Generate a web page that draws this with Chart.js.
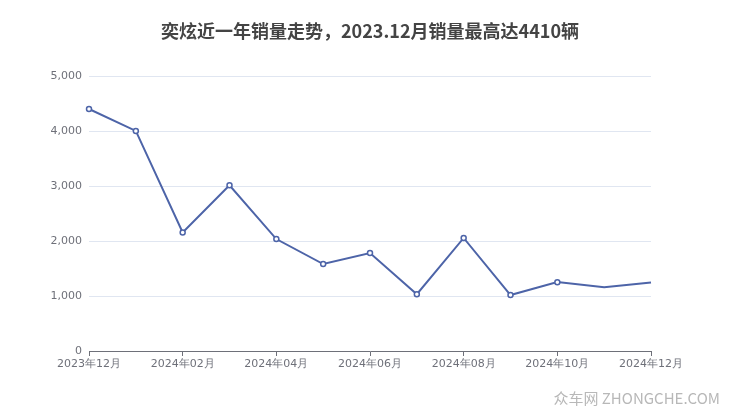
<!DOCTYPE html>
<html><head><meta charset="utf-8">
<script src="https://cdn.jsdelivr.net/npm/chart.js@4/dist/chart.umd.min.js"></script>
<style>html,body{margin:0;padding:0;background:#fff}#wrap{width:740px;height:417px}</style>
</head><body><div id="wrap"><canvas id="c" width="740" height="417"></canvas></div>
<script>
const titleText = '奕炫近一年销量走势，2023.12月销量最高达4410辆';
const months = ['2023年12月','2024年01月','2024年02月','2024年03月','2024年04月','2024年05月','2024年06月','2024年07月','2024年08月','2024年09月','2024年10月','2024年11月','2024年12月'];
const sales = [4410, 4010, 2160, 3020, 2040, 1585, 1785, 1035, 2060, 1020, 1255, 1160, 1250];
const markerShown = [1,1,1,1,1,1,1,1,1,1,1,0,0];
const yTicks = [0, 1000, 2000, 3000, 4000, 5000];

const watermark = {
  id: 'watermark',
  afterDraw(chart) {
    const ctx = chart.ctx;
    ctx.save();
    ctx.font = '15px "Noto Sans CJK SC", "DejaVu Sans", sans-serif';
    ctx.fillStyle = '#b8b8b8';
    ctx.textAlign = 'right';
    ctx.textBaseline = 'middle';
    ctx.fillText('众车网 ZHONGCHE.COM', 720, 398);
    ctx.restore();
  }
};

new Chart(document.getElementById('c'), {
  type: 'line',
  data: {
    datasets: [{
      data: sales.map((v, i) => ({x: i, y: v})),
      borderColor: '#4d64a8',
      borderWidth: 2,
      backgroundColor: '#ffffff',
      pointBackgroundColor: '#ffffff',
      pointBorderColor: '#4d64a8',
      pointBorderWidth: 1.5,
      pointRadius: markerShown.map(m => m ? 2.5 : 0),
      tension: 0,
      fill: false,
      clip: false
    }]
  },
  options: {
    responsive: false,
    animation: false,
    layout: {padding: 0},
    plugins: {
      legend: {display: false},
      tooltip: {enabled: false},
      title: {
        display: true,
        text: titleText,
        color: '#444444',
        font: {size: 18, weight: 'bold', family: '"Noto Sans CJK SC", sans-serif'},
        padding: {top: 20, bottom: 35}
      }
    },
    scales: {
      x: {
        type: 'linear',
        min: 0, max: months.length - 1,
        afterBuildTicks(scale) {
          scale.ticks = months.map((m, i) => ({value: i})).filter(t => t.value % 2 === 0);
        },
        afterFit(scale) { scale.height = 66; },
        ticks: {
          callback: (v) => months[v],
          color: '#6e7079',
          font: {size: 11, family: '"DejaVu Sans", sans-serif'},
          maxRotation: 0, autoSkip: false, padding: 2
        },
        grid: {display: true, drawOnChartArea: false, drawTicks: true, tickLength: 5, tickColor: '#6e7079'},
        border: {display: true, color: '#6e7079', width: 1}
      },
      y: {
        min: 0, max: 5000,
        afterBuildTicks(scale) { scale.ticks = yTicks.map(v => ({value: v})); },
        afterFit(scale) { scale.width = 89; },
        ticks: {
          callback: (v) => v.toLocaleString('en-US'),
          color: '#6e7079',
          font: {size: 11, family: '"DejaVu Sans", sans-serif'},
          padding: 7
        },
        grid: {color: '#e0e6f1', drawTicks: false, lineWidth: 1},
        border: {display: false}
      },
      yRight: {
        position: 'right',
        min: 0, max: 5000,
        afterFit(scale) { scale.width = 89; },
        ticks: {display: false},
        grid: {display: false, drawOnChartArea: false},
        border: {display: false}
      }
    }
  },
  plugins: [watermark]
});
</script></body></html>
